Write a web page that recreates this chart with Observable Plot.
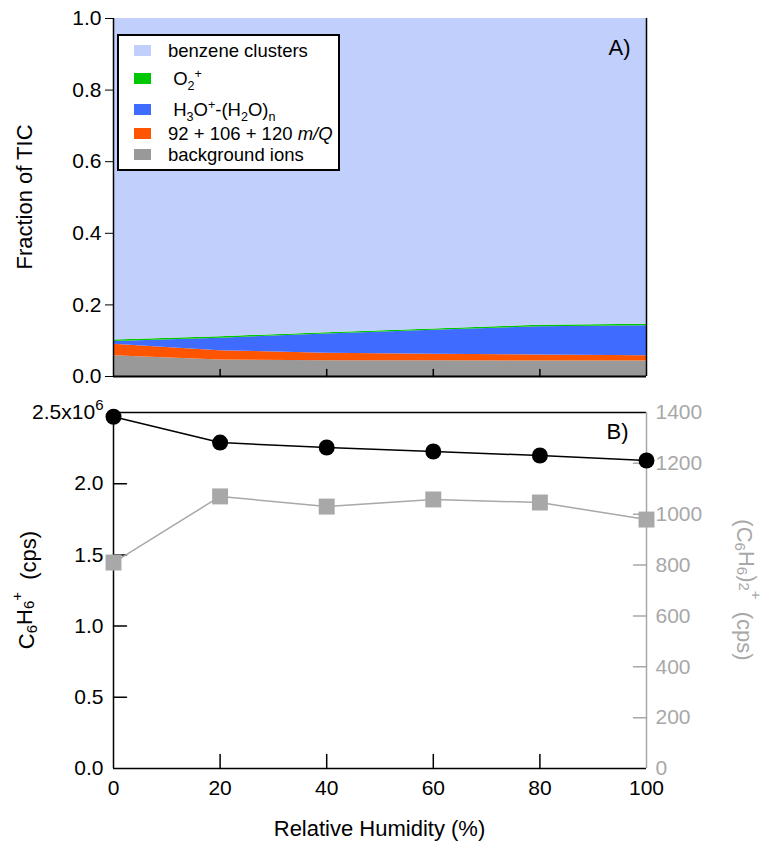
<!DOCTYPE html>
<html><head><meta charset="utf-8">
<script src="https://cdn.jsdelivr.net/npm/d3@7"></script>
<script src="https://cdn.jsdelivr.net/npm/@observablehq/plot@0.6"></script>
<style>
body{margin:0;background:#fff;font-family:"Liberation Sans",Arial,sans-serif;}
#wrap{position:relative;width:765px;height:853px;overflow:hidden;background:#fff}
#a{position:absolute;left:0;top:0}
#b{position:absolute;left:0;top:395px}
.legend{position:absolute;left:117px;top:34px;width:219px;height:133px;border:2px solid #000;background:#fff;font-size:18.5px;color:#000}
.item{position:absolute;left:0;height:20px;line-height:20px;white-space:nowrap}
.sw{position:absolute;left:15px;top:4px;width:17px;height:11px}
.lb{position:absolute;left:49px;top:0}
.lb sub,.lb sup{font-size:0.68em;line-height:0}
</style></head><body>
<div id="wrap"><div id="a"></div><div id="b"></div><div class="legend" id="legend"></div></div>
<script>
// ---- data ----
const rh = [0, 20, 40, 60, 80, 100];
const seriesNames = ["background ions", "92 + 106 + 120 m/Q", "H3O+-(H2O)n", "O2+", "benzene clusters"];
const seriesColors = ["#999999", "#ff5500", "#3f6bff", "#00c800", "#c0cffc"];
const backgroundIons = [0.058, 0.046, 0.044, 0.044, 0.043, 0.043];
const mzSum = [0.032, 0.026, 0.021, 0.018, 0.017, 0.015];
const hydronium = [0.008, 0.035, 0.0535, 0.067, 0.079, 0.084];
const o2 = [0.004, 0.004, 0.004, 0.004, 0.004, 0.004];
const benzeneClusters = [0.898, 0.889, 0.8775, 0.867, 0.857, 0.854];
const benzeneCps = [2.47e6, 2.289e6, 2.254e6, 2.226e6, 2.198e6, 2.163e6];
const dimerCps = [810, 1070, 1030, 1058, 1046, 979];
const fracTicks = [0, 0.2, 0.4, 0.6, 0.8, 1.0];
const leftTicks = [0, 0.5e6, 1.0e6, 1.5e6, 2.0e6, 2.5e6];
const rightTicks = [0, 200, 400, 600, 800, 1000, 1200, 1400];
const xTicks = [0, 20, 40, 60, 80, 100];

const layers = [backgroundIons, mzSum, hydronium, o2, benzeneClusters];
const tidy = [];
seriesNames.forEach((s, j) => rh.forEach((x, i) => tidy.push({rh: x, series: s, value: layers[j][i]})));

const font = "Liberation Sans, Arial, sans-serif";
const tickShape = {draw(ctx, l) { ctx.moveTo(0, 0); ctx.lineTo(0, -l); }};
const gray = "#a8a8a8";

// ---- panel A ----
const A = Plot.plot({
  width: 765, height: 395, marginLeft: 113, marginRight: 119, marginTop: 18, marginBottom: 19,
  style: {fontFamily: font, fontSize: "21px", color: "#000", background: "transparent"},
  x: {domain: [0, 100], axis: null},
  y: {domain: [0, 1], axis: null},
  color: {domain: seriesNames, range: seriesColors},
  marks: [
    Plot.areaY(tidy, {x: "rh", y: "value", fill: "series", order: seriesNames}),
    Plot.axisY(fracTicks, {anchor: "left", tickSize: 8, tickPadding: 4, tickFormat: d3.format(".1f"), label: null, fontSize: 21}),
    Plot.ruleX([0, 100], {stroke: "#000", strokeWidth: 1.5}),
    Plot.ruleY([0], {stroke: "#000", strokeWidth: 2}),
    Plot.vector(xTicks.slice(1, -1), {x: d => d, frameAnchor: "bottom", length: 7, rotate: 0, anchor: "start", shape: tickShape, stroke: "#000", strokeWidth: 1.5}),
    Plot.text(["A)"], {frameAnchor: "top-right", dx: -16, dy: 21, lineAnchor: "top", textAnchor: "end", fontSize: 22})
  ]
});
document.getElementById("a").appendChild(A);
d3.select(A).append("text")
  .attr("transform", "translate(24,197) rotate(-90)")
  .attr("text-anchor", "middle").attr("dominant-baseline", "central")
  .attr("font-size", 22).attr("font-family", font).attr("fill", "#000")
  .text("Fraction of TIC");

// ---- panel B ----
const k = 2.5e6 / 1400;
const B = Plot.plot({
  width: 765, height: 458, marginLeft: 113, marginRight: 119, marginTop: 17, marginBottom: 85,
  style: {fontFamily: font, fontSize: "21px", color: "#000", background: "transparent", overflow: "visible"},
  x: {domain: [0, 100], axis: null},
  y: {domain: [0, 2.5e6], axis: null},
  marks: [
    Plot.ruleY([0, 2.5e6], {stroke: "#000", strokeWidth: 1.5}),
    Plot.ruleX([0], {stroke: "#000", strokeWidth: 1.5}),
    Plot.ruleX([100], {stroke: gray, strokeWidth: 1.5}),
    Plot.vector(leftTicks.slice(1, -1), {y: d => d, frameAnchor: "left", length: 13, rotate: 90, anchor: "start", shape: tickShape, stroke: "#000", strokeWidth: 1.5}),
    Plot.vector(rightTicks.slice(1, -1).map(v => v * k), {y: d => d, frameAnchor: "right", length: 13, rotate: -90, anchor: "start", shape: tickShape, stroke: gray, strokeWidth: 1.5}),
    Plot.vector(xTicks.slice(1, -1), {x: d => d, frameAnchor: "bottom", length: 14, rotate: 0, anchor: "start", shape: tickShape, stroke: "#000", strokeWidth: 1.5}),
    Plot.axisY(leftTicks, {anchor: "left", tickSize: 0, tickPadding: 10, label: null, fontSize: 21,
      tickFormat: v => v === 2.5e6 ? "2.5x10" : (v / 1e6).toFixed(1)}),
    Plot.axisY(rightTicks.map(v => v * k), {anchor: "right", tickSize: 0, tickPadding: 9, label: null, fontSize: 21,
      fill: gray, tickFormat: v => String(Math.round(v / k))}),
    Plot.axisX(xTicks, {anchor: "bottom", tickSize: 0, tickPadding: 12, label: null, fontSize: 21}),
    Plot.line(rh, {x: rh, y: dimerCps.map(v => v * k), stroke: gray, strokeWidth: 1.5}),
    Plot.dot(rh, {x: rh, y: dimerCps.map(v => v * k), symbol: "square", r: 9, fill: gray}),
    Plot.line(rh, {x: rh, y: benzeneCps, stroke: "#000", strokeWidth: 1.5}),
    Plot.dot(rh, {x: rh, y: benzeneCps, r: 8, fill: "#000"}),
    Plot.text(["B)"], {frameAnchor: "top-right", dx: -18, dy: 11, lineAnchor: "top", textAnchor: "end", fontSize: 22})
  ]
});
document.getElementById("b").appendChild(B);
// superscript on 2.5x10^6
d3.select(B).selectAll("text").each(function() {
  if (this.textContent === "2.5x10") {
    d3.select(this).append("tspan").attr("dy", "-0.6em").attr("font-size", "15px").text("6");
  }
});
// left axis title
const lt = d3.select(B).append("text")
  .attr("transform", "translate(26,195) rotate(-90)")
  .attr("text-anchor", "middle").attr("dominant-baseline", "central")
  .attr("font-size", 22).attr("font-family", font).attr("fill", "#000");
lt.append("tspan").text("C");
lt.append("tspan").attr("dy", "0.3em").attr("font-size", 15).text("6");
lt.append("tspan").attr("dy", "-0.3em").text("H");
lt.append("tspan").attr("dy", "0.3em").attr("font-size", 15).text("6");
lt.append("tspan").attr("dy", "-0.85em").attr("font-size", 15).text("+");
lt.append("tspan").attr("dy", "0.55em").text("\u00a0 (cps)");
// right axis title
const rt = d3.select(B).append("text")
  .attr("transform", "translate(745,195) rotate(90)")
  .attr("text-anchor", "middle").attr("dominant-baseline", "central")
  .attr("font-size", 22).attr("font-family", font).attr("fill", gray);
rt.append("tspan").text("(C");
rt.append("tspan").attr("dy", "0.3em").attr("font-size", 15).text("6");
rt.append("tspan").attr("dy", "-0.3em").text("H");
rt.append("tspan").attr("dy", "0.3em").attr("font-size", 15).text("6");
rt.append("tspan").attr("dy", "-0.3em").text(")");
rt.append("tspan").attr("dy", "0.3em").attr("font-size", 15).text("2");
rt.append("tspan").attr("dy", "-0.85em").attr("font-size", 15).text("+");
rt.append("tspan").attr("dy", "0.55em").text("\u00a0 (cps)");
// x title
d3.select(B).append("text")
  .attr("x", 379.5).attr("y", 433)
  .attr("text-anchor", "middle").attr("dominant-baseline", "central")
  .attr("font-size", 22).attr("font-family", font).attr("fill", "#000")
  .text("Relative Humidity (%)");

// ---- legend ----
const legendHtml = {
  "benzene clusters": "benzene clusters",
  "O2+": "&nbsp;O<sub>2</sub><sup>+</sup>",
  "H3O+-(H2O)n": "&nbsp;H<sub>3</sub>O<sup>+</sup>-(H<sub>2</sub>O)<sub>n</sub>",
  "92 + 106 + 120 m/Q": "92 + 106 + 120 <i>m/Q</i>",
  "background ions": "background ions"
};
const legendOrder = ["benzene clusters", "O2+", "H3O+-(H2O)n", "92 + 106 + 120 m/Q", "background ions"];
const itemTops = [5, 33, 64, 88, 109];
const leg = d3.select("#legend");
legendOrder.forEach((name, i) => {
  const it = leg.append("div").attr("class", "item").style("top", itemTops[i] + "px");
  it.append("div").attr("class", "sw").style("background", seriesColors[seriesNames.indexOf(name)]);
  it.append("div").attr("class", "lb").html(legendHtml[name]);
});
</script>
</body></html>
